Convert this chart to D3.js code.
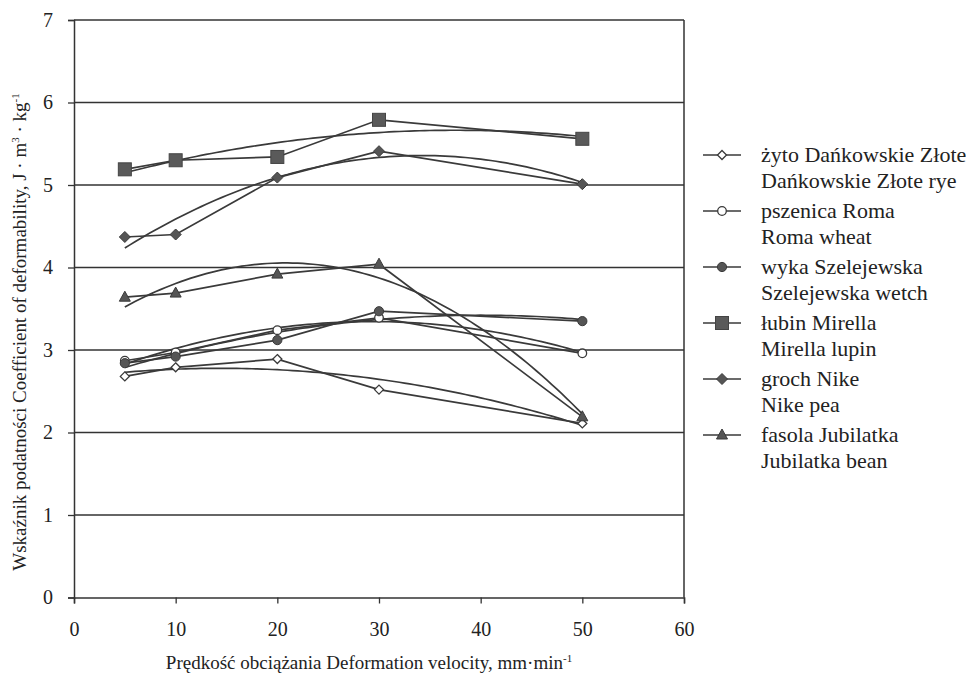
<!DOCTYPE html>
<html><head><meta charset="utf-8">
<script src="https://cdn.jsdelivr.net/npm/d3@7"></script>
<style>body{margin:0;background:#fff}svg{display:block}</style>
</head><body>
<svg id="c" width="966" height="675"></svg>
<script>
const velocities = [5, 10, 20, 30, 50];
const seriesNames = [
  ["żyto Dańkowskie Złote", "Dańkowskie Złote rye"],
  ["pszenica Roma", "Roma wheat"],
  ["wyka Szelejewska", "Szelejewska wetch"],
  ["łubin Mirella", "Mirella lupin"],
  ["groch Nike", "Nike pea"],
  ["fasola Jubilatka", "Jubilatka bean"]
];
const zytoValues    = [2.68, 2.79, 2.89, 2.52, 2.11];
const pszenicaValues= [2.87, 2.97, 3.24, 3.39, 2.96];
const wykaValues    = [2.84, 2.92, 3.12, 3.47, 3.35];
const lubinValues   = [5.19, 5.30, 5.34, 5.79, 5.56];
const grochValues   = [4.37, 4.40, 5.09, 5.41, 5.01];
const fasolaValues  = [3.64, 3.69, 3.92, 4.04, 2.19];
const markerTypes = ["diamondOpen", "circleOpen", "circleFilled", "square", "diamondFilled", "triangle"];
const xTicks = [0, 10, 20, 30, 40, 50, 60];
const yTicks = [0, 1, 2, 3, 4, 5, 6, 7];

const allValues = [zytoValues, pszenicaValues, wykaValues, lubinValues, grochValues, fasolaValues];

const FONT = "'Liberation Serif', 'DejaVu Serif', serif";
const svg = d3.select("#c").attr("font-family", FONT);
const x = d3.scaleLinear().domain([0, 60]).range([74, 684]);
const y = d3.scaleLinear().domain([0, 7]).range([597.5, 20]);
const ink = "#3a3a3a";

svg.append("g").selectAll("line").data(yTicks.filter(t => t > 0)).join("line")
  .attr("x1", x(0)).attr("x2", x(60)).attr("y1", d => y(d)).attr("y2", d => y(d))
  .attr("stroke", "#333").attr("stroke-width", 1.5);
svg.append("line").attr("x1", x(60)).attr("x2", x(60)).attr("y1", y(7)).attr("y2", y(0))
  .attr("stroke", "#333").attr("stroke-width", 1.5);

const xAxis = svg.append("g").attr("transform", `translate(0,${y(0)})`)
  .call(d3.axisBottom(x).tickValues(xTicks).tickSize(6).tickPadding(18).tickFormat(d3.format("d")));
const yAxis = svg.append("g").attr("transform", `translate(${x(0)},0)`)
  .call(d3.axisLeft(y).tickValues(yTicks).tickSize(6).tickPadding(15).tickFormat(d3.format("d")));
[xAxis, yAxis].forEach(a => {
  a.attr("font-family", FONT);
  a.select(".domain").attr("stroke", "#333").attr("stroke-width", 1.5);
  a.selectAll(".tick line").attr("stroke", "#333").attr("stroke-width", 1.3);
  a.selectAll(".tick text").attr("font-size", 20).attr("style", "font-family:" + FONT).attr("fill", "#222");
});

function quadFit(xs, ys) {
  const n = xs.length;
  let s = [0,0,0,0,0], t = [0,0,0];
  for (let i = 0; i < n; i++) {
    const xi = xs[i], yi = ys[i];
    for (let k = 0; k < 5; k++) s[k] += Math.pow(xi, k);
    for (let k = 0; k < 3; k++) t[k] += yi * Math.pow(xi, k);
  }
  const A = [[s[0], s[1], s[2], t[0]], [s[1], s[2], s[3], t[1]], [s[2], s[3], s[4], t[2]]];
  for (let i = 0; i < 3; i++) {
    let p = i;
    for (let r = i + 1; r < 3; r++) if (Math.abs(A[r][i]) > Math.abs(A[p][i])) p = r;
    [A[i], A[p]] = [A[p], A[i]];
    for (let r = 0; r < 3; r++) if (r !== i) {
      const f = A[r][i] / A[i][i];
      for (let c = i; c < 4; c++) A[r][c] -= f * A[i][c];
    }
  }
  const co = [A[0][3] / A[0][0], A[1][3] / A[1][1], A[2][3] / A[2][2]];
  return v => co[0] + co[1] * v + co[2] * v * v;
}

const line = d3.line().x(d => x(d[0])).y(d => y(d[1]));
const trendG = svg.append("g");
const lineG = svg.append("g");
const markG = svg.append("g");

function drawMarker(g, type, cx, cy) {
  switch (type) {
    case "diamondOpen":
      g.append("path").attr("d", `M${cx},${cy-4.5}L${cx+4.5},${cy}L${cx},${cy+4.5}L${cx-4.5},${cy}Z`)
        .attr("fill", "#fff").attr("stroke", ink).attr("stroke-width", 1.3); break;
    case "circleOpen":
      g.append("circle").attr("cx", cx).attr("cy", cy).attr("r", 4.3)
        .attr("fill", "#fff").attr("stroke", ink).attr("stroke-width", 1.3); break;
    case "circleFilled":
      g.append("circle").attr("cx", cx).attr("cy", cy).attr("r", 4.6)
        .attr("fill", "#555").attr("stroke", ink).attr("stroke-width", 1); break;
    case "square":
      g.append("rect").attr("x", cx - 6.5).attr("y", cy - 6.5).attr("width", 13).attr("height", 13)
        .attr("fill", "#5a5a5a").attr("stroke", "#444").attr("stroke-width", 1); break;
    case "diamondFilled":
      g.append("path").attr("d", `M${cx},${cy-5.5}L${cx+5.5},${cy}L${cx},${cy+5.5}L${cx-5.5},${cy}Z`)
        .attr("fill", "#555").attr("stroke", ink).attr("stroke-width", 1); break;
    case "triangle":
      g.append("path").attr("d", `M${cx},${cy-6}L${cx+5.5},${cy+4}L${cx-5.5},${cy+4}Z`)
        .attr("fill", "#555").attr("stroke", ink).attr("stroke-width", 1); break;
  }
}

allValues.forEach((vals, i) => {
  const pts = velocities.map((v, j) => [v, vals[j]]);
  const f = quadFit(velocities, vals);
  const tPts = d3.range(5, 50.01, 0.5).map(v => [v, f(v)]);
  trendG.append("path").attr("d", line(tPts)).attr("fill", "none").attr("stroke", ink).attr("stroke-width", 1.7);
  lineG.append("path").attr("d", line(pts)).attr("fill", "none").attr("stroke", ink).attr("stroke-width", 1.7);
  pts.forEach(p => drawMarker(markG, markerTypes[i], x(p[0]), y(p[1])));
});

const lg = svg.append("g");
seriesNames.forEach((nm, i) => {
  const yy = 155 + i * 56;
  lg.append("line").attr("x1", 703).attr("x2", 741).attr("y1", yy).attr("y2", yy)
    .attr("stroke", ink).attr("stroke-width", 1.7);
  drawMarker(lg, markerTypes[i], 722, yy);
  lg.append("text").attr("x", 761).attr("y", yy + 7).attr("font-size", 22).attr("fill", "#222").attr("style", "font-family:" + FONT).text(nm[0]);
  lg.append("text").attr("x", 761).attr("y", yy + 33).attr("font-size", 22).attr("fill", "#222").attr("style", "font-family:" + FONT).text(nm[1]);
});

const xt = svg.append("text").attr("x", 369).attr("y", 669).attr("text-anchor", "middle").attr("font-size", 19).attr("fill", "#222").attr("style", "font-family:" + FONT);
xt.append("tspan").text("Prędkość obciążania Deformation velocity,  mm·min");
xt.append("tspan").attr("dy", -7).attr("font-size", 11).text("-1");

const yt = svg.append("text").attr("transform", "translate(26,332) rotate(-90)").attr("text-anchor", "middle").attr("font-size", 19).attr("fill", "#222").attr("style", "font-family:" + FONT);
yt.append("tspan").text("Wskaźnik podatności Coefficient of deformability, J · m");
yt.append("tspan").attr("dy", -7).attr("font-size", 11).text("3");
yt.append("tspan").attr("dy", 7).text(" · kg");
yt.append("tspan").attr("dy", -7).attr("font-size", 11).text("-1");
</script>
</body></html>
